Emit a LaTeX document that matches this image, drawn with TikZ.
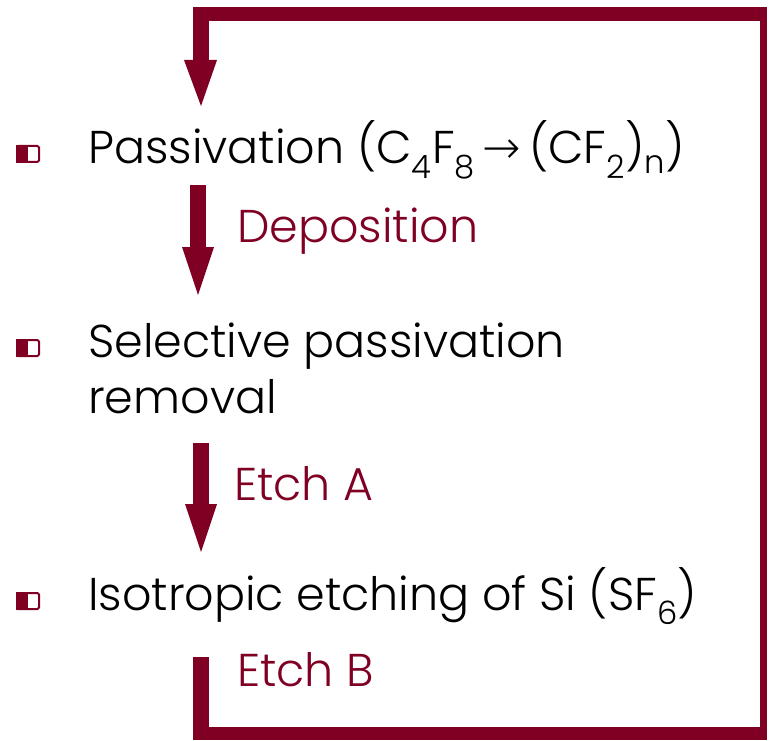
\documentclass[tikz,border=0pt]{standalone}
\usepackage{fontspec}
\setmainfont{Poppins Light}
\newfontfamily\arrowfont{DejaVu Sans ExtraLight}
\usetikzlibrary{calc}
\definecolor{burg}{RGB}{128,0,36}
\begin{document}
\begin{tikzpicture}[x=1pt,y=-1pt,
  item/.style={anchor=base west,inner sep=0pt,font=\fontsize{46}{50}\selectfont,text=black},
  lbl/.style={anchor=base west,inner sep=0pt,font=\fontsize{46}{50}\selectfont,text=burg},
  bulletbox/.style={draw=burg,line width=2pt,rounded corners=1.5pt,minimum width=22pt,minimum height=16pt,inner sep=0pt},
  flow/.style={fill=burg,draw=none}]
\useasboundingbox (0,0) rectangle (769,741);
% texts
\node[item] (t1) at (88,164) {Passivation (C\textsubscript{4}F\textsubscript{8}\,{\arrowfont →}\,(CF\textsubscript{2})\textsubscript{n})};
\node[lbl] (l1) at (237,243) {Deposition};
\node[item] (t2) at (88,357) {Selective passivation};
\node[item] (t2b) at (88,413) {removal};
\node[lbl] (l2) at (234,500) {Etch A};
\node[item] (t3) at (88,610) {Isotropic etching of Si (SF\textsubscript{6})};
\node[lbl] (l3) at (237,686) {Etch B};
% bullets
\foreach \y/\n in {154/b1,348/b2,601/b3}{
  \node[bulletbox] (\n) at (28,\y) {};
  \fill[burg] (\n.north west) rectangle ($(\n.south west)!0.5!(\n.south east)$);
}
% straight arrows
\coordinate (a1s) at (198,185);
\coordinate (a1e) at (198,295);
\coordinate (a2s) at (201,443);
\coordinate (a2e) at (201,552);
\foreach \s/\e in {a1s/a1e,a2s/a2e}{
  \fill[flow] ([xshift=-8pt]\s) rectangle ([xshift=8pt,yshift=47pt]\e);
  \fill[flow] ([xshift=-16pt,yshift=48pt]\e) -- ([xshift=16pt,yshift=48pt]\e) -- (\e) -- cycle;
}
% feedback loop
\coordinate (le) at (201,106);
\fill[flow] (193,657) rectangle (209,740);
\fill[flow] (193,727) rectangle (767,740);
\fill[flow] (760,7) rectangle (767,740);
\fill[flow] (193,7) rectangle (767,21);
\fill[flow] (193,7) rectangle (209,62);
\fill[flow] (184,60) -- (217,60) -- (le) -- cycle;
\end{tikzpicture}
\end{document}
